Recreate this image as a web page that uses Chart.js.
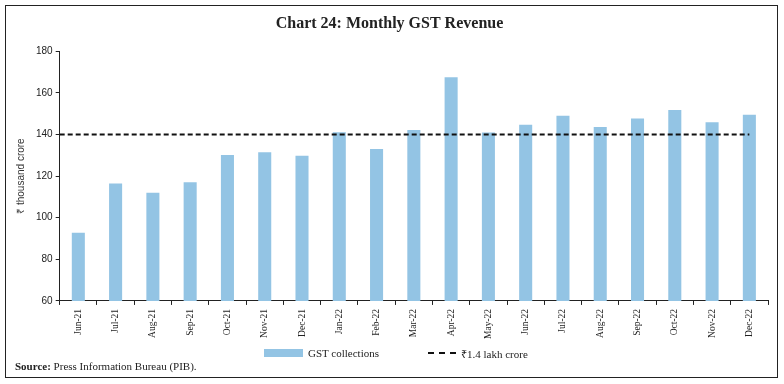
<!DOCTYPE html>
<html>
<head>
<meta charset="utf-8">
<script src="https://cdn.jsdelivr.net/npm/chart.js@4"></script>
<style>
    body { margin: 0; background: #fff; }
    #wrap { position: relative; width: 784px; height: 384px; }
    #frame { position: absolute; left: 5px; top: 5px; width: 771px; height: 371px; border: 1.5px solid #222; }
    #source { position: absolute; left: 15px; top: 360px; font-family: 'Liberation Serif', serif; font-size: 11px; color: #222; }
    #legend { position: absolute; top: 346px; left: 264px; font-family: 'Liberation Serif', serif; font-size: 11px; color: #222; }
    .legend-item { position: absolute; top: 0; white-space: nowrap; display: flex; align-items: center; height: 14px; }
    .legend-swatch { display: inline-block; margin-right: 5px; }
    canvas { position: absolute; left: 0; top: 0; }
</style>
</head>
<body>
<div id="wrap">
    <div id="frame"></div>
    <canvas id="gstChart" width="784" height="384"></canvas>
    <div id="legend"></div>
    <div id="source"><b>Source:</b> Press Information Bureau (PIB).</div>
</div>
<script>
// Data (₹ thousand crore)
const months = ['Jun-21', 'Jul-21', 'Aug-21', 'Sep-21', 'Oct-21', 'Nov-21', 'Dec-21', 'Jan-22', 'Feb-22',
    'Mar-22', 'Apr-22', 'May-22', 'Jun-22', 'Jul-22', 'Aug-22', 'Sep-22', 'Oct-22', 'Nov-22', 'Dec-22'];
const gstCollections = [92.8, 116.4, 112.0, 117.0, 130.1, 131.5, 129.8, 141.0, 133.0,
    142.1, 167.5, 140.9, 144.6, 149.0, 143.6, 147.7, 151.7, 145.9, 149.5];
const threshold = 140;
const yTicks = [60, 80, 100, 120, 140, 160, 180];

// reference line runs from the axis edge to the last month
const lineStart = -0.5;
const lineEnd = months.length - 1;

document.addEventListener('DOMContentLoaded', function() {
    const ctx = document.getElementById('gstChart').getContext('2d');

    const chart = new Chart(ctx, {
        type: 'bar',
        data: {
            labels: months,
            datasets: [{
                type: 'bar',
                label: 'GST collections',
                data: gstCollections,
                backgroundColor: '#93c4e4',
                barPercentage: 0.35,
                categoryPercentage: 1.0,
                grouped: false,
                order: 2
            }, {
                type: 'line',
                label: '₹1.4 lakh crore',
                data: [{ x: lineStart, y: threshold }, { x: lineEnd, y: threshold }],
                xAxisID: 'xl',
                borderColor: '#111',
                borderWidth: 2,
                borderDash: [5, 3],
                pointRadius: 0,
                fill: false,
                order: 1
            }]
        },
        options: {
            responsive: false,
            animation: false,
            layout: { padding: { left: 11, right: 16, top: 6, bottom: 41 } },
            plugins: {
                title: {
                    display: true,
                    text: 'Chart 24: Monthly GST Revenue',
                    color: '#222',
                    font: { family: 'Liberation Serif', size: 16, weight: 'bold' },
                    padding: { top: 8, bottom: 18 }
                },
                legend: { display: false },
                tooltip: { enabled: false }
            },
            scales: {
                x: {
                    type: 'category',
                    offset: true,
                    grid: { offset: true, drawOnChartArea: false, drawTicks: true, tickLength: 4, color: '#222' },
                    border: { color: '#222', width: 1 },
                    ticks: {
                        maxRotation: 90,
                        minRotation: 90,
                        autoSkip: false,
                        color: '#222',
                        padding: 4,
                        font: { family: 'Liberation Serif', size: 9.5 }
                    }
                },
                xl: {
                    type: 'linear',
                    display: false,
                    offset: false,
                    bounds: 'data',
                    grid: { offset: false },
                    min: -0.5,
                    max: months.length - 0.5
                },
                y: {
                    min: yTicks[0],
                    max: yTicks[yTicks.length - 1],
                    afterBuildTicks: function(axis) {
                        axis.ticks = yTicks.map(v => ({ value: v }));
                    },
                    grid: { drawOnChartArea: false, drawTicks: true, tickLength: 4, color: '#222' },
                    border: { color: '#222', width: 1 },
                    title: {
                        display: true,
                        text: '₹ thousand crore',
                        color: '#333',
                        font: { family: 'Liberation Sans', size: 10 },
                        padding: { bottom: 6 }
                    },
                    ticks: {
                        color: '#222',
                        padding: 3,
                        font: { family: 'Liberation Sans', size: 10 }
                    }
                }
            }
        }
    });

    // Build legend from the chart's datasets
    const legend = document.getElementById('legend');
    const offsets = [0, 164];
    chart.data.datasets.forEach((ds, i) => {
        const item = document.createElement('div');
        item.className = 'legend-item';
        item.style.left = offsets[i] + 'px';
        const swatch = document.createElement('span');
        swatch.className = 'legend-swatch';
        if (ds.type === 'line') {
            swatch.style.width = '28px';
            swatch.style.height = '0';
            swatch.style.borderTop = '2px dashed ' + ds.borderColor;
        } else {
            swatch.style.width = '39px';
            swatch.style.height = '8px';
            swatch.style.background = ds.backgroundColor;
        }
        item.appendChild(swatch);
        item.appendChild(document.createTextNode(ds.label));
        legend.appendChild(item);
    });
});
</script>
</body>
</html>
